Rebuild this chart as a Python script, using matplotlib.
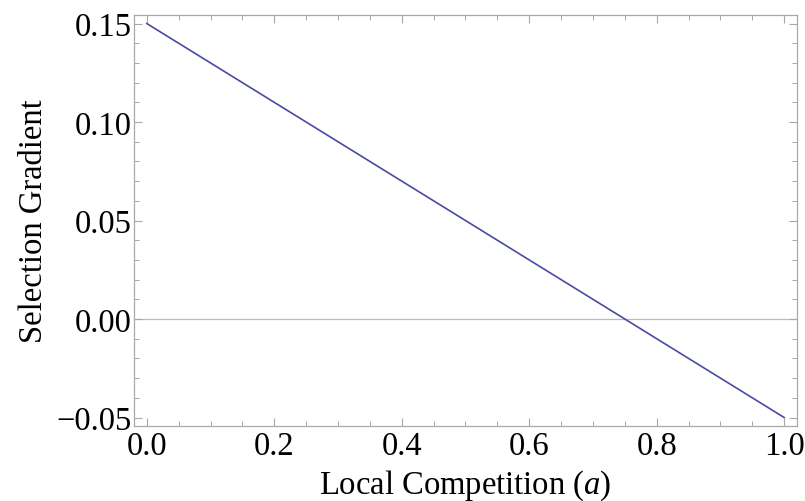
import matplotlib
matplotlib.use("Agg")
import matplotlib.pyplot as plt
from matplotlib.ticker import MultipleLocator

local_competition = [0.0, 1.0]
selection_gradient = [0.15, -0.05]
x_ticks = [0.0, 0.2, 0.4, 0.6, 0.8, 1.0]
x_tick_labels = ["0.0", "0.2", "0.4", "0.6", "0.8", "1.0"]
y_ticks = [-0.05, 0.00, 0.05, 0.10, 0.15]
y_tick_labels = ["\u22120.05", "0.00", "0.05", "0.10", "0.15"]

plt.rcParams['font.family'] = ['Liberation Serif', 'DejaVu Serif']
plt.rcParams['mathtext.fontset'] = 'custom'
plt.rcParams['mathtext.it'] = 'Liberation Serif:italic'
plt.rcParams['mathtext.rm'] = 'Liberation Serif'

fig = plt.figure(figsize=(8.05, 5.02), dpi=100)
ax = fig.add_axes([0.1665, 0.1494, 0.8235, 0.8186])

frame_color = '#a8a8a8'
ax.axhline(0, color='#bcbcbc', lw=0.9, zorder=1)
ax.plot(local_competition, selection_gradient, color='#4a4aa6', lw=1.2, zorder=2)

ax.set_xlim(-0.02, 1.02)
ax.set_ylim(-0.0543, 0.1543)
ax.set_xticks(x_ticks)
ax.set_xticklabels(x_tick_labels)
ax.set_yticks(y_ticks)
ax.set_yticklabels(y_tick_labels)
ax.xaxis.set_minor_locator(MultipleLocator(0.05))
ax.yaxis.set_minor_locator(MultipleLocator(0.01))

for s in ax.spines.values():
    s.set_color(frame_color)
    s.set_linewidth(0.9)

ax.tick_params(which='both', direction='in', top=True, right=True, color=frame_color,
               labelsize=23.5, labelcolor='black')
ax.tick_params(axis='y', which='major', pad=2)
ax.tick_params(axis='x', which='major', pad=3)
ax.tick_params(which='major', length=6, width=0.8)
ax.tick_params(which='minor', length=3.5, width=0.7)

ax.set_xlabel("Local Competition ($a$)", fontsize=23.5, labelpad=5)
ax.set_ylabel("Selection Gradient", fontsize=23.5, labelpad=5)

fig.savefig("out.png", dpi=100)
